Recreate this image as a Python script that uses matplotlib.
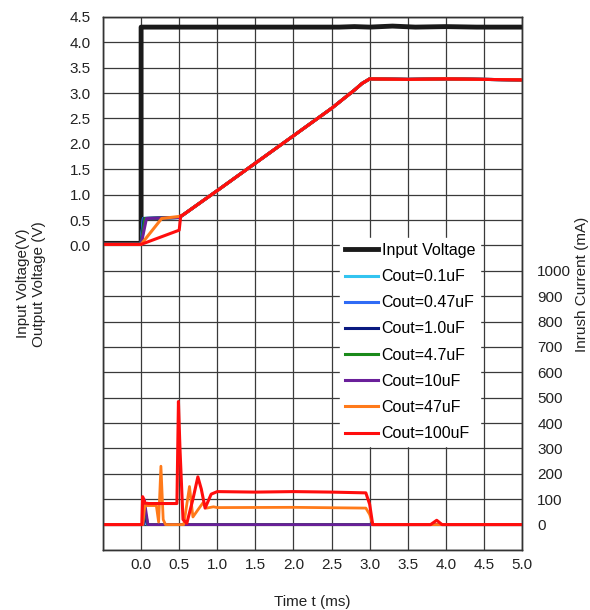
import matplotlib.pyplot as plt
import numpy as np

plt.rcParams['font.family'] = ['Liberation Sans', 'DejaVu Sans']
plt.rcParams['font.size'] = 11

# time axis of the scope capture, in ms
vin_t = [-0.5, 0.0, 0.0, 2.6, 2.8, 3.0, 3.3, 3.6, 4.0, 4.4, 5.0]
vin_v = [0.04, 0.04, 4.30, 4.30, 4.31, 4.30, 4.32, 4.30, 4.31, 4.30, 4.30]

# common soft-start ramp of the output (all caps end up on it)
ramp_t = [0.55, 1.0, 1.5, 2.0, 2.5, 2.8, 2.9, 3.0, 3.5, 4.0, 5.0]
ramp_v = [0.60, 1.08, 1.62, 2.16, 2.70, 3.06, 3.19, 3.28, 3.27, 3.28, 3.26]

# start of the output voltage, before it joins the ramp
vout_start_t = {
    '0.1uF': [-0.5, 0.0, 0.03, 0.5],
    '0.47uF': [-0.5, 0.0, 0.03, 0.5],
    '1.0uF': [-0.5, 0.0, 0.04, 0.5],
    '4.7uF': [-0.5, 0.0, 0.05, 0.5],
    '10uF': [-0.5, 0.0, 0.07, 0.5],
    '47uF': [-0.5, 0.0, 0.27, 0.5],
    '100uF': [-0.5, 0.0, 0.5, 0.52],
}
vout_start_v = {
    '0.1uF': [0.02, 0.02, 0.53, 0.55],
    '0.47uF': [0.02, 0.02, 0.53, 0.55],
    '1.0uF': [0.02, 0.02, 0.53, 0.55],
    '4.7uF': [0.02, 0.02, 0.53, 0.55],
    '10uF': [0.02, 0.02, 0.53, 0.55],
    '47uF': [0.02, 0.02, 0.53, 0.57],
    '100uF': [0.02, 0.02, 0.30, 0.58],
}

# inrush current (mA)
i_small_t = [-0.5, 0.03, 0.04, 0.06, 0.09, 5.0]
i_small = {
    '0.1uF': [0, 0, 20, 5, 0, 0],
    '0.47uF': [0, 0, 40, 10, 0, 0],
    '1.0uF': [0, 0, 60, 20, 0, 0],
    '4.7uF': [0, 0, 80, 40, 0, 0],
    '10uF': [0, 0, 100, 60, 0, 0],
}
i47_t = [-0.5, 0.02, 0.05, 0.2, 0.23, 0.26, 0.29, 0.32, 0.56, 0.635, 0.68,
         0.75, 0.81, 0.86, 0.95, 1.0, 2.0, 2.95, 3.0, 3.04, 5.0]
i47 = [0, 0, 75, 75, 10, 230, 20, 0, 0, 150, 30,
       60, 85, 65, 70, 67, 68, 65, 40, 0, 0]
i100_t = [-0.5, 0.01, 0.02, 0.05, 0.1, 0.47, 0.49, 0.51, 0.55, 0.6, 0.68,
          0.745, 0.79, 0.84, 0.92, 1.0, 1.5, 2.0, 2.5, 2.95, 3.0, 3.04,
          3.8, 3.88, 3.95, 5.0]
i100 = [0, 0, 110, 85, 83, 83, 485, 300, 20, 5, 100,
        188, 140, 65, 120, 130, 128, 130, 128, 125, 80, 0,
        0, 17, 0, 0]

caps = ['0.1uF', '0.47uF', '1.0uF', '4.7uF', '10uF', '47uF', '100uF']
colors = {
    '0.1uF': '#33c4f0', '0.47uF': '#2f6bf5', '1.0uF': '#0a1a80',
    '4.7uF': '#1a8a1a', '10uF': '#6a1f9a', '47uF': '#ff7a1a', '100uF': '#ff0d0d',
}

fig = plt.figure(figsize=(5.9, 6.1), dpi=100)
ax = fig.add_axes([0.1746, 0.0984, 0.7102, 0.8738])
ax2 = ax.twinx()

handles = []
h_in, = ax.plot(vin_t, vin_v, color='#1a1a1a', lw=3.5, label='Input Voltage', zorder=3)
handles.append(h_in)
for c in caps:
    t = vout_start_t[c] + ramp_t
    v = vout_start_v[c] + ramp_v
    h, = ax.plot(t, v, color=colors[c], lw=2.2, label='Cout=' + c, zorder=4)
    handles.append(h)

for c in caps[:5]:
    ax2.plot(i_small_t, i_small[c], color=colors[c], lw=2)
ax2.plot(i47_t, i47, color=colors['47uF'], lw=2)
ax2.plot(i100_t, i100, color=colors['100uF'], lw=2.2)

# voltage axis: grid over the whole frame, labels only 0..4.5
ax.set_xlim(-0.5, 5.0)
ax.set_ylim(-6.0, 4.5)
xt = np.arange(-0.5, 5.01, 0.5)
ax.set_xticks(xt)
ax.set_xticklabels([''] + [f'{x:.1f}' for x in xt[1:]])
yt = np.arange(-6.0, 4.51, 0.5)
ax.set_yticks(yt)
ax.set_yticklabels([f'{y:.1f}' if y > -0.01 else '' for y in yt])
ax.grid(True, color='#3a3a3a', lw=0.9)
ax.set_axisbelow(True)
ax.tick_params(axis='y', length=0, pad=9, labelsize=11, colors='#222222')
ax.tick_params(axis='x', length=0, pad=6, labelsize=11, colors='#222222')

# current axis
ax2.set_ylim(-100, 2000)
ax2.set_yticks(np.arange(0, 1001, 100))
ax2.tick_params(axis='y', length=0, pad=11, labelsize=11, colors='#222222')

for a in (ax, ax2):
    for s in a.spines.values():
        s.set_color('#333333')
        s.set_linewidth(1.0)

ax2.legend(handles, [h.get_label() for h in handles], loc='upper left',
           bbox_to_anchor=(0.566, 0.585), borderaxespad=0, frameon=True,
           facecolor='white', edgecolor='white', framealpha=1, fancybox=False,
           fontsize=11.5, handlelength=2.05, handletextpad=0.25, labelspacing=0.7,
           borderpad=0.3)

fig.text(31 / 590, 0.535, 'Input Voltage(V)\nOutput Voltage (V)', rotation=90,
         ha='center', va='center', fontsize=11, color='#222222')
fig.text(582 / 590, 0.533, 'Inrush Current (mA)', rotation=90,
         ha='center', va='center', fontsize=11, color='#222222')
fig.text(312 / 590, 1 - 602 / 610, 'Time t (ms)', ha='center', va='center',
         fontsize=11, color='#222222')

fig.savefig('out.png', dpi=100)
